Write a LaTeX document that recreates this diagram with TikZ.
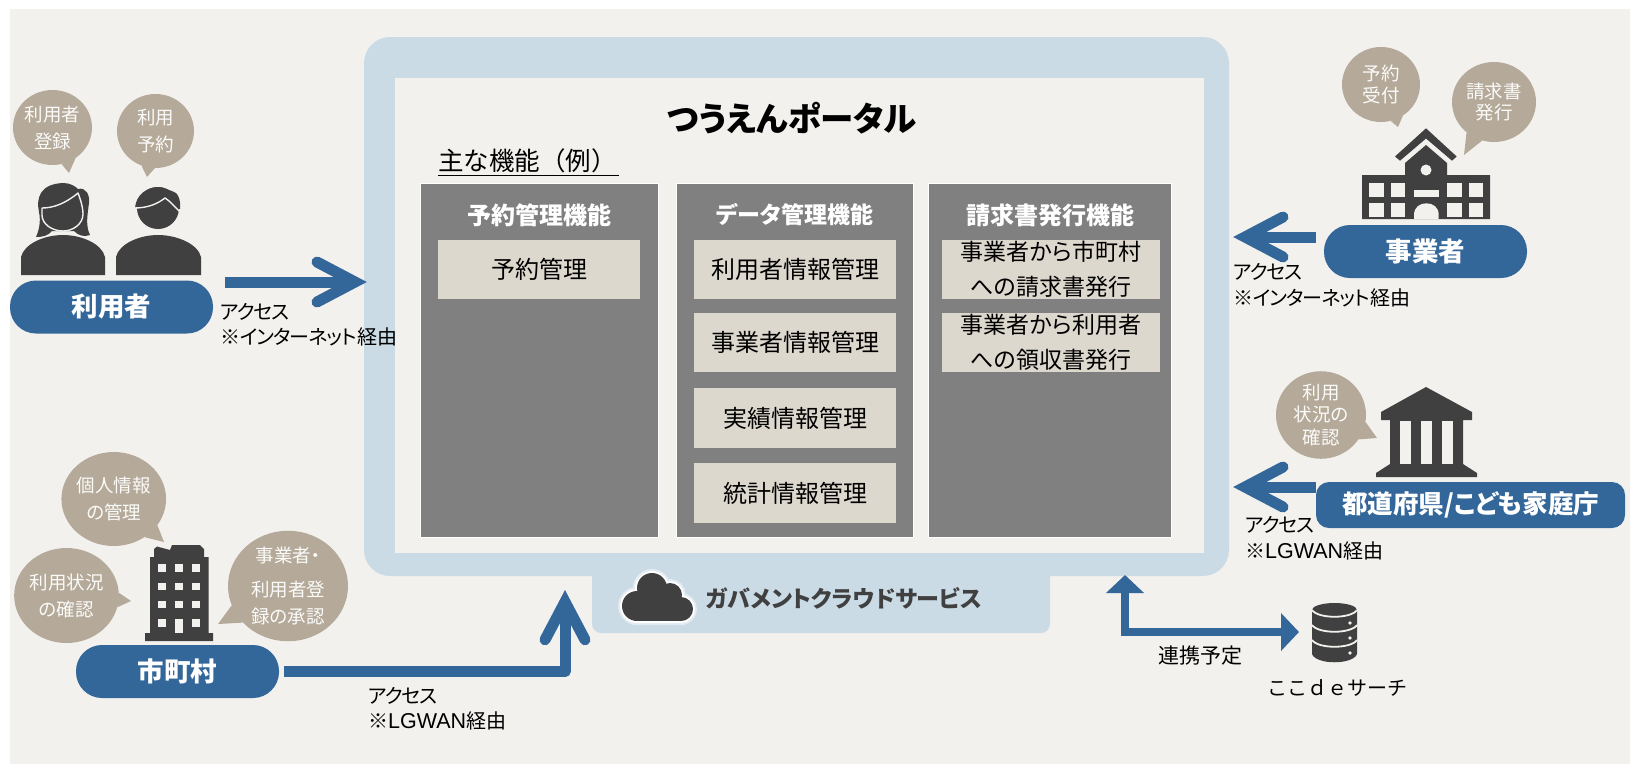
\documentclass[tikz,border=0pt]{standalone}
\usepackage{fontspec}
\setmainfont{Noto Sans CJK JP}[RawFeature=+palt]
\newfontfamily\fullw{Noto Sans CJK JP}
\newfontfamily\kanaw{Noto Sans CJK JP}[RawFeature=+palt,LetterSpace=-5]
\newfontfamily\latw{Liberation Sans}
\usetikzlibrary{shapes.geometric,arrows.meta}
\definecolor{bgc}{HTML}{F3F1EE}
\definecolor{panelc}{HTML}{CBDBE6}
\definecolor{bluec}{HTML}{336699}
\definecolor{colc}{HTML}{808080}
\definecolor{itemc}{HTML}{DDD8CE}
\definecolor{bubc}{HTML}{B5AA99}
\definecolor{darkc}{HTML}{404040}
\newcommand{\fs}[2]{\fontsize{#1}{#2}\selectfont}
\newcommand{\bubtail}[4]{\fill[bubc] (#1.#2) -- (#3) -- (#1.#4) -- cycle;}
\newcommand{\kn}[1]{{\kanaw #1}}
\newcommand{\lgw}{{\latw\fontsize{21.5}{25.5}\selectfont LGWAN}}
\tikzset{
  x=1pt,y=-1pt,
  bubble/.style={ellipse,fill=bubc,inner sep=0pt,text=bubtxt,align=center,font=\fs{18.5}{27}},
  pill/.style={rectangle,fill=bluec,text=white,inner sep=0pt,font=\fs{26.5}{30}\bfseries,minimum width=203pt,minimum height=53pt,rounded corners=26pt},
  col/.style={rectangle,fill=colc,draw=white,line width=0.8pt,inner sep=0pt},
  colhead/.style={text=white,font=\fs{24}{26}\bfseries,inner sep=0pt},
  item/.style={rectangle,fill=itemc,inner sep=0pt,text=black,align=center,font=\fs{24}{35},minimum height=59pt,minimum width=202pt},
  lbl/.style={text=black,align=left,font=\fs{20}{25.5},inner sep=0pt,anchor=west},
  flow/.style={draw=bluec,line width=11pt,-{Straight Barb[length=38pt,width=40pt,line width=11pt,line cap=round,line join=miter]}},
  link/.style={draw=bluec,line width=8pt,{Triangle[length=18pt,width=37pt]}-{Triangle[length=18pt,width=37pt]}},
  icon/.style={fill=darkc},
  hole/.style={fill=bgc},
}
\colorlet{bubtxt}{white!95!bubc}
\begin{document}
\begin{tikzpicture}
\useasboundingbox (0,0) rectangle (1630,764);
\fill[bgc] (10,9) rectangle (1630,764);

% cloud tab and portal panel
\fill[panelc,rounded corners=9pt] (592,560) rectangle (1050,633);
\node[rectangle,fill=panelc,rounded corners=26pt,minimum width=865pt,minimum height=539pt,inner sep=0pt] (panel) at (796.5,306.5) {};
\node[rectangle,fill=bgc,minimum width=809pt,minimum height=475pt,inner sep=0pt] (inner) at (799.5,315.5) {};

\node[font=\fs{33.5}{36}\bfseries,text=black,inner sep=0pt] (title) at (792,118) {つうえんポータル};
\node[font=\fullw\fs{25.5}{28},text=black,inner sep=0pt,anchor=west] (mainf) at (438,161) {主な機能（例）};
\draw[black,line width=1pt] (438,175) -- (619,175);

% columns
\node[col,minimum width=238pt,minimum height=354pt] (c1) at (539,360) {};
\node[col,minimum width=237pt,minimum height=354pt] (c2) at (794.5,360) {};
\node[col,minimum width=243pt,minimum height=354pt] (c3) at (1050,360) {};
\node[colhead] (h1) at (539,215) {予約管理機能};
\node[colhead,font=\fs{23}{26}\bfseries] (h2) at (795,215) {データ管理機能};
\node[colhead] (h3) at (1050,215) {請求書発行機能};
\node[item] (i11) at (539,269.5) {予約管理};
\node[item] (i21) at (795,269.5) {利用者情報管理};
\node[item] (i22) at (795,342.5) {事業者情報管理};
\node[item,minimum height=60pt] (i23) at (795,418) {実績情報管理};
\node[item,minimum height=60pt] (i24) at (795,493) {統計情報管理};
\node[item,minimum width=218pt,font=\fs{23}{35}] (i31) at (1051,269.5) {事業者から市町村\\への請求書発行};
\node[item,minimum width=218pt,font=\fs{23}{35}] (i32) at (1051,342.5) {事業者から利用者\\への領収書発行};

% cloud
\begin{scope}
\foreach \w/\c in {8/white!45!panelc,4/white}{
  \draw[\c,line width=\w pt,fill=\c] (637,606) circle (15) (652,588) circle (15) (670,595) circle (12) (681,609) circle (12) (637,600) rectangle (681,621);
}
\fill[darkc] (637,606) circle (15) (652,588) circle (15) (670,595) circle (12) (681,609) circle (12);
\fill[darkc] (637,597) rectangle (681,621);
\fill[darkc] (630,610) rectangle (690,612);
\end{scope}
\node[font=\fs{23}{26}\bfseries,text=darkc,inner sep=0pt,anchor=west] (gov) at (706,598) {ガバメントクラウドサービス};

% actor pills
\node[pill] (user) at (111.5,307) {利用者};
\node[pill] (city) at (177.5,671.5) {市町村};
\node[pill] (biz) at (1425.5,251.5) {事業者};
\node[pill,minimum width=309pt,minimum height=46pt,rounded corners=13pt,font=\fs{25.5}{30}\bfseries] (pref) at (1470.5,505) {\raisebox{-2pt}{都道府県/こども家庭庁}};

% arrows
\coordinate (a1s) at (225,282);
\coordinate (a2s) at (1316,237);
\coordinate (a3s) at (1316,487);
\coordinate (a4t) at (565,590);
\coordinate (a5u) at (1125,575);
\coordinate (a5r) at (1299,632);
\draw[flow,shorten >=-3pt] (a1s) -- (panel.west |- a1s);
\draw[flow,shorten >=4pt] (a2s) -- (panel.east |- a2s);
\draw[flow,shorten >=4pt] (a3s) -- (panel.east |- a3s);
\draw[flow,line join=round,shorten <=5pt] (city.east) -| (a4t);
\draw[link] (a5u) |- (a5r);

% labels
\node[lbl] (l1) at (220,324.5) {\kn{アクセス}\\{\fullw ※}\kn{インターネット}経由};
\node[lbl] (l2) at (1233,285) {\kn{アクセス}\\{\fullw ※}\kn{インターネット}経由};
\node[lbl] (l3) at (1245,538) {\kn{アクセス}\\{\fullw ※}\lgw 経由};
\node[lbl] (l4) at (368,708.5) {\kn{アクセス}\\{\fullw ※}\lgw 経由};
\node[font=\fullw\fs{21}{24},text=black,inner sep=0pt] (l5) at (1200,656) {連携予定};
\node[font=\fullw\fs{20}{24},text=black,inner sep=0pt] (l6) at (1337,688) {ここｄｅサーチ};

% bubbles
\node[bubble,minimum width=79pt,minimum height=75pt] (b1) at (52.5,127.5) {利用者\\登録};
\bubtail{b1}{-76}{69,173}{-53}
\node[bubble,minimum width=77pt,minimum height=74pt] (b2) at (155.5,131) {利用\\予約};
\bubtail{b2}{-112}{147,177}{-91}
\node[bubble,minimum width=78pt,minimum height=75pt,font=\fs{18.5}{22}] (b3) at (1381,84.5) {予約\\受付};
\bubtail{b3}{-75}{1398,127}{-55}
\node[bubble,minimum width=84pt,minimum height=80pt,font=\fs{18.5}{21.5}] (b4) at (1494,102) {請求書\\発行};
\bubtail{b4}{-132}{1464,155}{-107}
\node[bubble,minimum width=90pt,minimum height=86pt,font=\fs{18.5}{22.5}] (b5) at (1321,415) {利用\\状況の\\確認};
\bubtail{b5}{-9}{1377,438}{-33}
\node[bubble,minimum width=103pt,minimum height=94pt,font=\fs{18.5}{26.5}] (b6) at (113.75,499) {個人情報\\の管理};
\bubtail{b6}{-31}{164,542}{-51}
\node[bubble,minimum width=103pt,minimum height=95pt,font=\fs{18.5}{27}] (b7) at (66.5,595.5) {利用状況\\の確認};
\bubtail{b7}{3}{131,601}{-13}
\node[bubble,minimum width=120pt,minimum height=106pt,font=\fs{18.5}{27}] (b8) at (288,586) {事業者・\\[7pt]利用者登\\録の承認};
\bubtail{b8}{-161}{218,624}{-141}

% woman
\fill[icon] (21,275) -- (21,257) .. controls (24,244) and (44,235) .. (63,235) .. controls (82,235) and (102,244) .. (105,257) -- (105,275) -- cycle;
\fill[icon] (36,237) .. controls (39,230) and (41,222) .. (39,212) .. controls (36,198) and (40,184) .. (63,183) .. controls (70,183) and (75,186) .. (78,189) .. controls (86,187) and (90,195) .. (89,203) .. controls (88,212) and (85,225) .. (90,235) .. controls (84,237) and (79,236) .. (74,231) .. controls (70,231) and (56,231) .. (52,231) .. controls (48,236) and (42,237) .. (36,237) -- cycle;
\draw[bgc,line width=1.4pt,line join=round] (42,208) .. controls (54,208) and (66,203) .. (78,193) .. controls (80,198) and (83,207) .. (83,214) .. controls (83,224) and (73,231) .. (63,231) .. controls (52,231) and (42,224) .. (42,215) -- cycle;
% man
\fill[icon] (116,275) -- (116,257) .. controls (119,244) and (139,235) .. (158,235) .. controls (177,235) and (198,244) .. (201,257) -- (201,275) -- cycle;
\fill[icon] (158,208) circle (21);
\fill[icon] (135,208) .. controls (136,194) and (148,187) .. (158,187) .. controls (163,187) and (168,190) .. (172,191) .. controls (178,192) and (181,200) .. (180,209) -- cycle;
\draw[bgc,line width=1.4pt] (134,208) .. controls (146,208) and (156,205) .. (165,198) .. controls (170,201) and (175,207) .. (180,212);

% school
\fill[icon] (1426,128.3) -- (1456.7,156.5) -- (1452,160.7) -- (1426,138.5) -- (1400,160.7) -- (1395,156.5) -- cycle;
\fill[icon] (1362,175) -- (1405,175) -- (1405,163) -- (1426,145) -- (1447,163) -- (1447,175) -- (1490,175) -- (1490,219) -- (1362,219) -- cycle;
\foreach \xa/\xb in {1369.3/1384,1390.7/1405.3,1447.3/1462,1468.7/1483.3}{
  \fill[hole] (\xa,183.3) rectangle (\xb,196.7);
  \fill[hole] (\xa,203.3) rectangle (\xb,216.7);
}
\fill[hole] (1414,190) rectangle (1438.7,196.7);
\fill[hole] (1414,219) -- (1414,215) .. controls (1414,207) and (1420,203.3) .. (1426.3,203.3) .. controls (1433,203.3) and (1438.7,207) .. (1438.7,215) -- (1438.7,219) -- cycle;
\fill[hole] (1426,170) circle (5.5);

% city building
\fill[icon] (145,641) -- (145,633) -- (150,633) -- (150,557) -- (154,557) -- (154,549) -- (157,546.5) -- (170,550) -- (172,545) -- (200,545) -- (204,549) -- (204,557) -- (208.6,557) -- (208.6,633) -- (213,633) -- (213,641) -- cycle;
\foreach \xa/\xb in {158/166,175/183,192/200}{
  \foreach \ya/\yb in {564/572,583/590,601/608}{
    \fill[hole] (\xa,\ya) rectangle (\xb,\yb);
  }
}
\fill[hole] (158,619) rectangle (166,627);
\fill[hole] (192,619) rectangle (200,627);
\fill[hole] (175,619) rectangle (183,633);

% government building
\fill[icon] (1426,387) -- (1472,412) -- (1472,420) -- (1463,420) -- (1463,464) -- (1477,473) -- (1477,477) -- (1376,477) -- (1376,473) -- (1390,464) -- (1390,420) -- (1381,420) -- (1381,412) -- cycle;
\foreach \xa/\xb in {1400/1411,1421/1432,1442/1453}{
  \fill[hole] (\xa,421) rectangle (\xb,464);
}

% database
\fill[icon] (1312,610) -- (1312,654) .. controls (1316,665) and (1353,665) .. (1357,654) -- (1357,610) -- cycle;
\fill[icon] (1334.5,610) ellipse[x radius=22.5,y radius=7];
\foreach \yy in {610,625,640}{
  \draw[bgc,line width=1.8pt] (1312,\yy) .. controls (1318,\yy+9) and (1351,\yy+9) .. (1357,\yy);
}
\foreach \yy in {623,638,653}{
  \fill[bgc] (1350,\yy) circle (1.8);
}
\end{tikzpicture}
\end{document}
